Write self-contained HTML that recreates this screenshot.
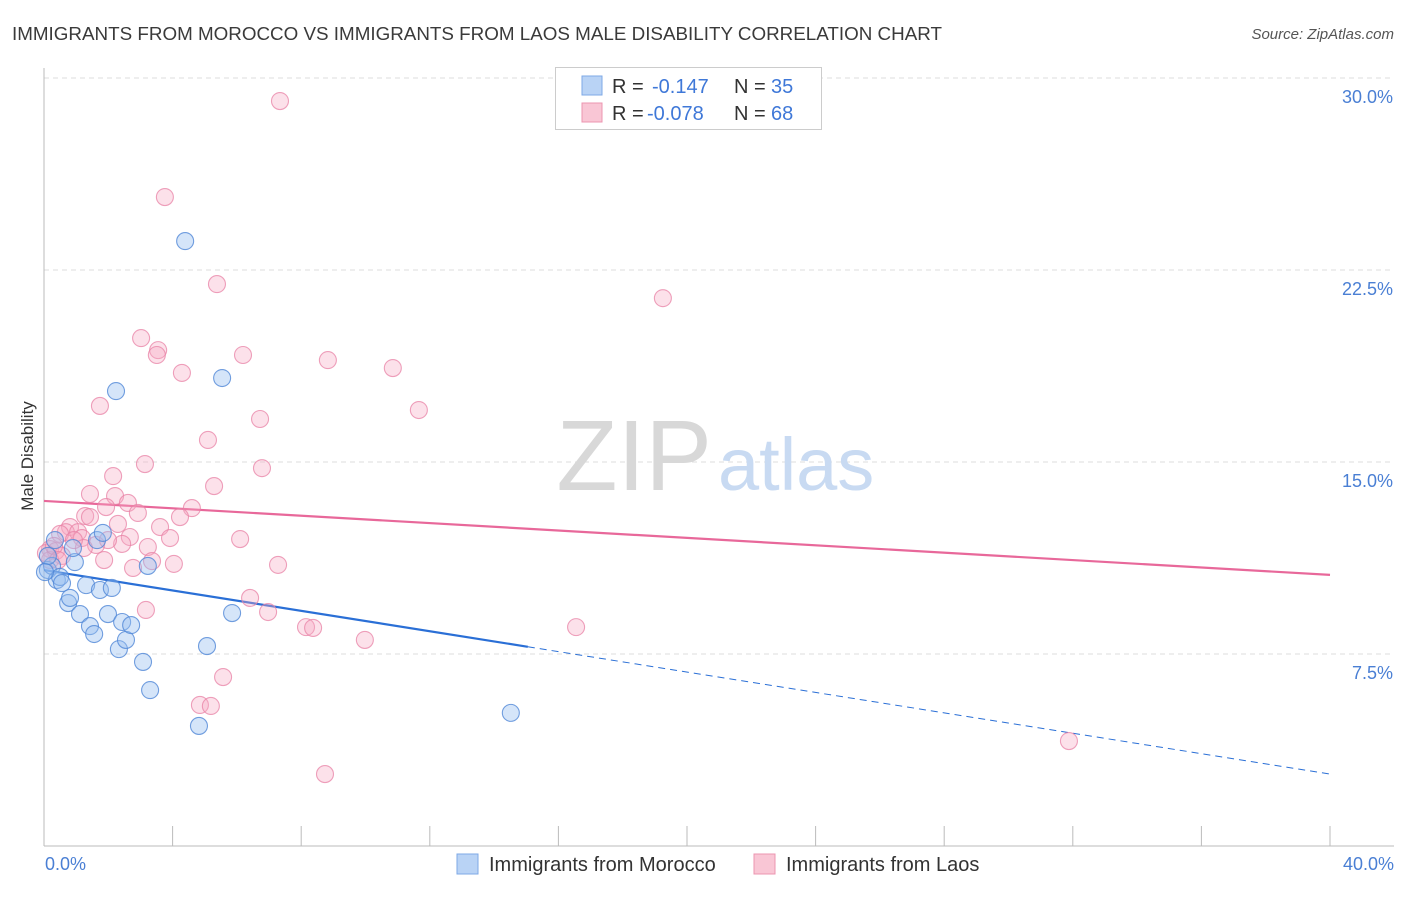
<!DOCTYPE html>
<html><head><meta charset="utf-8"><style>
body{margin:0;background:#fff;font-family:"Liberation Sans",sans-serif;}
svg text{font-family:"Liberation Sans",sans-serif;}
</style></head><body>
<svg id="chart" width="1406" height="892" xmlns="http://www.w3.org/2000/svg">
<text x="12" y="40" font-size="18.8" fill="#3a3a3a" textLength="930" lengthAdjust="spacingAndGlyphs">IMMIGRANTS FROM MOROCCO VS IMMIGRANTS FROM LAOS MALE DISABILITY CORRELATION CHART</text>
<text x="1394" y="39" font-size="15" fill="#555" font-style="italic" text-anchor="end">Source: ZipAtlas.com</text>
<text transform="translate(33,456) rotate(-90)" font-size="17" fill="#333" text-anchor="middle">Male Disability</text>
<g id="grid"></g>
<g id="axes"></g>
<text x="712" y="490" font-size="100" text-anchor="end" fill="#d8d8d8" font-family="Liberation Serif">ZIP</text>
<text x="718" y="490" font-size="74" fill="#c8daf2">atlas</text>
<g id="lines"></g>
<g id="pts"></g>
<g>
<rect x="555.5" y="67.5" width="266" height="62" fill="#fff" stroke="#ccc"/>
<rect x="582" y="76" width="20" height="19" fill="#b9d3f5" stroke="#7ea8e6"/>
<rect x="582" y="103" width="20" height="19" fill="#f9c6d5" stroke="#ec95b0"/>
<text x="612" y="93" font-size="20" fill="#333">R = </text><text x="652" y="93" font-size="20" fill="#3f78d8">-0.147</text>
<text x="734" y="93" font-size="20" fill="#333">N = </text><text x="771" y="93" font-size="20" fill="#3f78d8">35</text>
<text x="612" y="120" font-size="20" fill="#333">R = </text><text x="647" y="120" font-size="20" fill="#3f78d8">-0.078</text>
<text x="734" y="120" font-size="20" fill="#333">N = </text><text x="771" y="120" font-size="20" fill="#3f78d8">68</text>
</g>
<g>
<rect x="457" y="854" width="21" height="20" fill="#b9d3f5" stroke="#7ea8e6"/>
<text x="489" y="871" font-size="20" fill="#333">Immigrants from Morocco</text>
<rect x="754" y="854" width="21" height="20" fill="#f9c6d5" stroke="#ec95b0"/>
<text x="786" y="871" font-size="20" fill="#333">Immigrants from Laos</text>
</g>
</svg>
<script>
const yTicks=[7.5,15,22.5,30];
const yTickLabels=["7.5%","15.0%","22.5%","30.0%"];
const xTickVals=[0,4,8,12,16,20,24,28,32,36,40];
const xEndLabels=["0.0%","40.0%"];
const moroccoX=[4.39,2.24,5.54,0.12,0.25,0.40,0.50,0.56,0.75,0.81,0.96,0.90,1.12,1.31,1.43,1.56,1.65,1.74,1.83,1.99,2.11,2.33,2.43,2.55,2.71,3.08,3.23,3.30,4.82,5.07,5.85,14.52,0.12,0.03,0.34];
const moroccoY=[23.63,17.77,18.28,10.78,10.94,10.39,10.51,10.27,9.49,9.69,11.09,11.64,9.06,10.19,8.59,8.28,11.95,10.00,12.23,9.06,10.08,7.69,8.75,8.05,8.63,7.19,10.94,6.09,4.69,7.81,9.10,5.20,11.33,10.70,11.95];
const laosX=[7.34,3.76,5.38,19.25,3.02,3.55,3.51,6.19,8.83,4.29,10.85,1.74,11.66,6.72,5.10,3.14,6.78,2.15,5.29,1.43,2.21,2.61,1.93,4.60,2.92,1.28,1.43,4.23,3.61,2.30,0.81,0.68,0.50,1.06,1.18,2.67,3.92,1.62,2.43,3.23,6.10,0.19,0.37,0.56,0.19,1.87,3.36,4.04,7.28,2.77,6.41,3.17,6.97,8.15,8.37,16.55,9.98,5.57,4.85,5.19,8.74,31.88,0.06,0.31,1.24,0.93,1.99,0.44];
const laosY=[29.10,25.35,21.95,21.40,19.84,19.37,19.18,19.18,18.98,18.48,18.67,17.19,17.03,16.68,15.86,14.92,14.76,14.45,14.06,13.75,13.67,13.40,13.24,13.20,13.01,12.89,12.85,12.85,12.46,12.58,12.46,12.26,12.19,12.26,12.03,12.07,12.03,11.76,11.80,11.68,11.99,11.60,11.52,11.33,11.17,11.17,11.13,11.02,10.98,10.86,9.69,9.22,9.14,8.55,8.52,8.55,8.05,6.60,5.51,5.47,2.81,4.10,11.44,11.72,11.64,11.95,11.95,11.17];
const moroccoTrend=[10.78,2.81];
const laosTrend=[13.48,10.59];
const moroccoSolidEnd=15.05;

const X=v=>44+v/40*1286;
const Y=v=>846-v/7.5*192;
const NS="http://www.w3.org/2000/svg";
function mk(tag,parent,attrs){const e=document.createElementNS(NS,tag);for(const k in attrs)e.setAttribute(k,attrs[k]);parent.appendChild(e);return e;}
const grid=document.getElementById('grid'),axes=document.getElementById('axes');
yTicks.forEach((t,i)=>{
 const l=mk('line',grid,{x1:44,x2:1394,y1:Y(t),y2:Y(t),stroke:'#ddd','stroke-dasharray':'5,4'});
 
 
 const tx=mk('text',axes,{x:1393,y:Y(t)+25,'font-size':18,fill:'#4a7fd4','text-anchor':'end'});
 tx.textContent=yTickLabels[i];
 
 
});
const ax=mk('line',axes,{x1:44,x2:1394,y1:846,y2:846,stroke:'#bbb'});


const ay=mk('line',axes,{x1:44,x2:44,y1:68,y2:846,stroke:'#bbb'});


xTickVals.forEach(t=>{
 const l=mk('line',axes,{x1:X(t),x2:X(t),y1:826,y2:846,stroke:'#bbb'});
 
 
});
[[0,'start',45],[40,'end',1394]].forEach((d,i)=>{
 const tx=mk('text',axes,{x:d[2],y:870,'font-size':18,fill:'#4a7fd4','text-anchor':d[1]});
 tx.textContent=xEndLabels[i];
 
 
});
const pts=document.getElementById('pts');
function dots(xs,ys,fill,stroke,name){xs.forEach((x,i)=>{
 const c=mk('circle',pts,{cx:X(x),cy:Y(ys[i]),r:8.5,fill:fill,stroke:stroke,'stroke-width':1.1});
 
 
});}
dots(laosX,laosY,'rgba(246,170,195,0.35)','rgba(232,130,165,0.75)','laos-point');
dots(moroccoX,moroccoY,'rgba(150,190,240,0.4)','rgba(80,135,215,0.8)','morocco-point');
const lines=document.getElementById('lines');
const interp=(tr,x)=>tr[0]+(tr[1]-tr[0])*x/40;
let l1=mk('line',lines,{x1:X(0),y1:Y(laosTrend[0]),x2:X(40),y2:Y(laosTrend[1]),stroke:'#e8689a','stroke-width':2.2});


let l2=mk('line',lines,{x1:X(0),y1:Y(moroccoTrend[0]),x2:X(moroccoSolidEnd),y2:Y(interp(moroccoTrend,moroccoSolidEnd)),stroke:'#2a6fd6','stroke-width':2.2});


let l3=mk('line',lines,{x1:X(moroccoSolidEnd),y1:Y(interp(moroccoTrend,moroccoSolidEnd)),x2:X(40),y2:Y(moroccoTrend[1]),stroke:'#2a6fd6','stroke-width':1,'stroke-dasharray':'7,5'});


</script>
</body></html>
